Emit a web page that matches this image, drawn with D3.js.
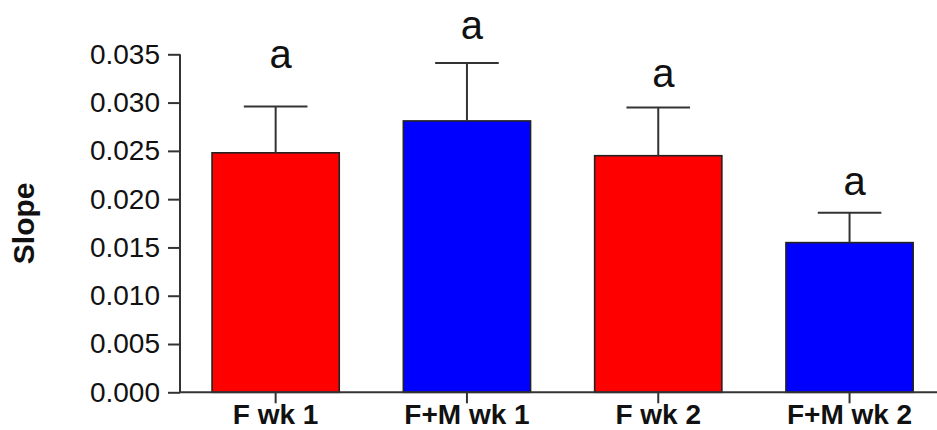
<!DOCTYPE html>
<html>
<head>
<meta charset="utf-8">
<script src="https://cdn.jsdelivr.net/npm/d3@7"></script>
<style>
  html, body { margin: 0; padding: 0; background: #fff; }
  svg { display: block; font-family: Arial, "Liberation Sans", Helvetica, sans-serif; }
</style>
</head>
<body>
<svg id="chart" width="937" height="430"></svg>
<script>
// ---- data ----
const categories = ["F wk 1", "F+M wk 1", "F wk 2", "F+M wk 2"];
const means = [0.0248, 0.0281, 0.0245, 0.0155];
const errors = [0.0048, 0.0060, 0.0050, 0.0031];
const sigLetters = ["a", "a", "a", "a"];
const letterLevels = [0.0336, 0.0366, 0.0316, 0.0204];
const barColors = ["#ff0000", "#0000ff", "#ff0000", "#0000ff"];
const yTicks = [0, 0.005, 0.010, 0.015, 0.020, 0.025, 0.030, 0.035];
const yLabel = "Slope";

// ---- layout ----
const W = 937, H = 430;
const axisX = 180, yTop = 54.3, yBottom = 392.3;
const svg = d3.select("#chart");

const y = d3.scaleLinear().domain([0, 0.035]).range([yBottom, yTop]);
const x = d3.scaleBand().domain(categories)
  .range([axisX, axisX + 4 * 191.3])
  .paddingInner(0.335).paddingOuter(0.1675);

const axisColor = "#333";

// bars
svg.append("g").selectAll("rect").data(categories).join("rect")
  .attr("x", d => x(d))
  .attr("y", (d, i) => y(means[i]))
  .attr("width", x.bandwidth())
  .attr("height", (d, i) => y(0) - y(means[i]))
  .attr("fill", (d, i) => barColors[i])
  .attr("stroke", "#222")
  .attr("stroke-width", 1.6);

// error bars
const eg = svg.append("g").attr("stroke", axisColor).attr("stroke-width", 2).attr("fill", "none");
categories.forEach((c, i) => {
  const cx = x(c) + x.bandwidth() / 2;
  const capW = x.bandwidth() / 2;
  eg.append("line").attr("x1", cx).attr("x2", cx)
    .attr("y1", y(means[i])).attr("y2", y(means[i] + errors[i]));
  eg.append("line").attr("x1", cx - capW / 2).attr("x2", cx + capW / 2)
    .attr("y1", y(means[i] + errors[i])).attr("y2", y(means[i] + errors[i]));
});

// significance letters
svg.append("g").selectAll("text").data(categories).join("text")
  .attr("x", d => x(d) + x.bandwidth() / 2 + 5)
  .attr("y", (d, i) => y(letterLevels[i]))
  .attr("text-anchor", "middle")
  .attr("font-size", 40)
  .attr("fill", "#111")
  .text((d, i) => sigLetters[i]);

// y axis
const yAxis = svg.append("g").attr("transform", `translate(${axisX},0)`)
  .call(d3.axisLeft(y).tickValues(yTicks).tickFormat(d3.format(".3f")).tickSizeInner(12).tickSizeOuter(0).tickPadding(8));
yAxis.select(".domain").attr("stroke", axisColor).attr("stroke-width", 2)
  .attr("d", `M0,${yBottom}V${yTop}`);
yAxis.selectAll(".tick line").attr("stroke", axisColor).attr("stroke-width", 2);
yAxis.selectAll(".tick text").attr("font-size", 28).attr("fill", "#111")
  .attr("font-family", "Arial, 'Liberation Sans', sans-serif");

// x axis
const xAxis = svg.append("g").attr("transform", `translate(0,${yBottom})`)
  .call(d3.axisBottom(x).tickSizeInner(11).tickSizeOuter(0).tickPadding(6));
xAxis.select(".domain").attr("stroke", axisColor).attr("stroke-width", 2)
  .attr("d", `M${axisX},0H${W + 5}`);
xAxis.selectAll(".tick line").attr("stroke", axisColor).attr("stroke-width", 2);
xAxis.selectAll(".tick text").attr("font-size", 28).attr("font-weight", "bold").attr("fill", "#111")
  .attr("font-family", "Arial, 'Liberation Sans', sans-serif")
  .attr("dy", null).attr("y", 31.5);

// y label
svg.append("text")
  .attr("transform", `translate(34,${(yTop + yBottom) / 2}) rotate(-90)`)
  .attr("text-anchor", "middle")
  .attr("font-size", 30)
  .attr("font-weight", "bold")
  .attr("fill", "#111")
  .text(yLabel);
</script>
</body>
</html>
